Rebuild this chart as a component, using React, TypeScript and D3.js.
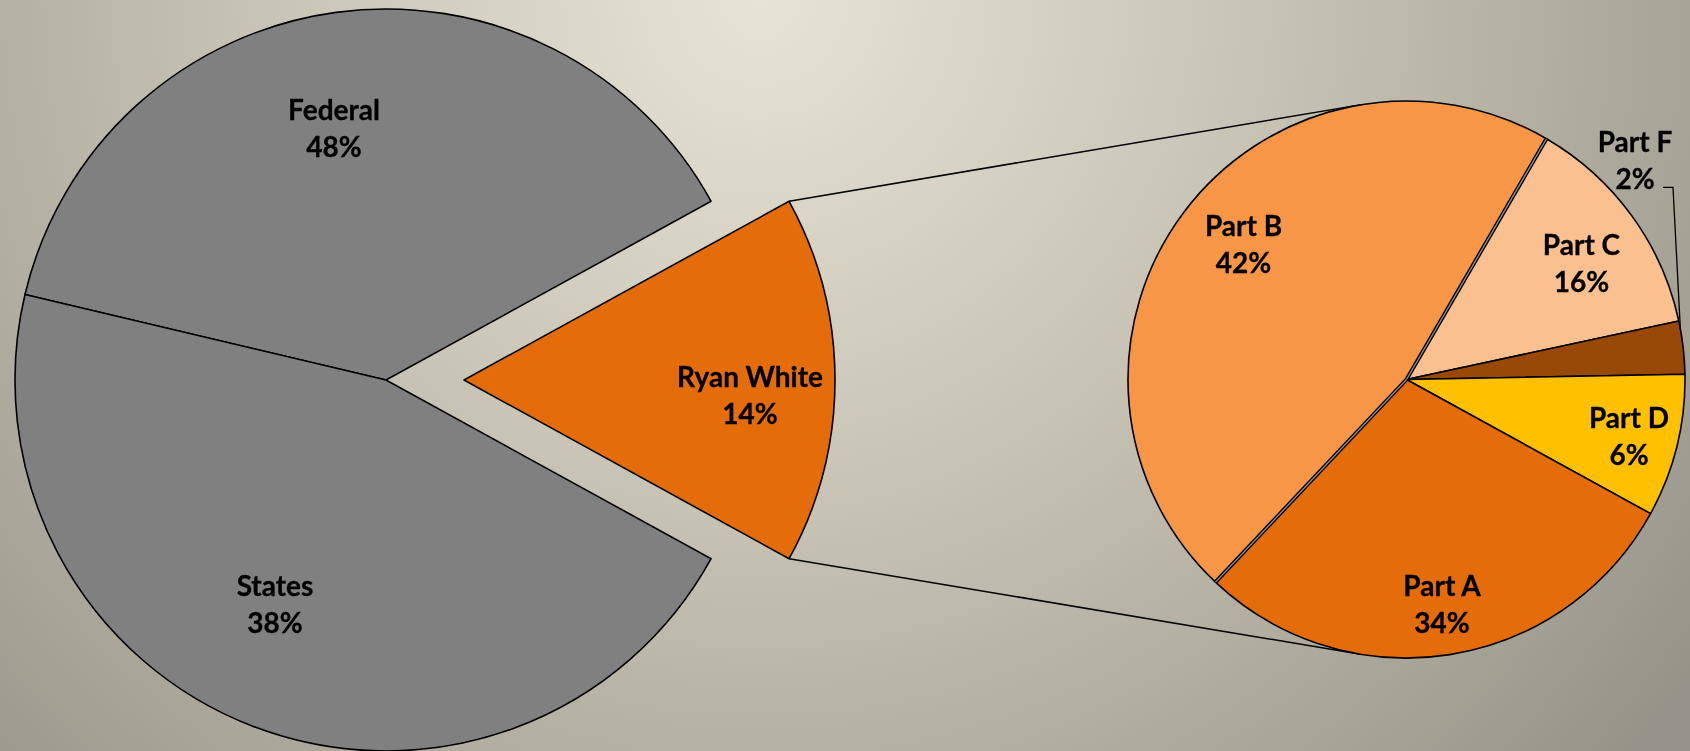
import React, { useEffect } from "react";
import * as d3 from "d3";

// ---- data ----
// first pie: share of the circle each slice occupies, and the label printed on it
const mainCategories = ["Federal", "Ryan White", "States"];
const mainShares = [38.3, 16.0, 45.7];
const mainLabels = ["48%", "14%", "38%"];

// second pie (breakdown of Ryan White)
const ryanCategories = ["Part C", "Part F", "Part D", "Part A", "Part B"];
const ryanShares = [13.25, 3.07, 8.3, 29.03, 46.35];
const ryanLabels = ["16%", "2%", "6%", "34%", "42%"];

// ---- layout / style ----
const W = 1690;
const H = 751;
const LEFT = { cx: 386, cy: 380, r: 371, explode: 78 };
const RIGHT = { cx: 1406.5, cy: 379.5, r: 278.5 };
const FONT = "Lato, 'Open Sans', sans-serif";
const FS = 28;
const LINE = 37;

const mainColors: Record<string, string> = {
  Federal: "#808080",
  States: "#808080",
  "Ryan White": "#E46C0A",
};
const ryanColors: Record<string, string> = {
  "Part A": "#E46C0A",
  "Part B": "#F79646",
  "Part C": "#FAC090",
  "Part D": "#FFC000",
  "Part F": "#984807",
};
// label centre offsets (relative to slice's pie centre)
const mainLabelOffset: Record<string, [number, number]> = {
  Federal: [-52, -253],
  States: [-111, 223],
  "Ryan White": [286, 14.5],
};
const ryanLabelOffset: Record<string, [number, number]> = {
  "Part C": [175, -117.5],
  "Part F": [228.5, -219.7],
  "Part D": [222.5, 55.5],
  "Part A": [35.5, 223.5],
  "Part B": [-163, -136.5],
};

const TAU = Math.PI * 2;
const polar = (cx: number, cy: number, r: number, a: number): [number, number] => [
  cx + r * Math.sin(a),
  cy - r * Math.cos(a),
];

function Label({ x, y, name, pct }: { x: number; y: number; name: string; pct: string }) {
  return (
    <text
      x={x}
      y={y}
      textAnchor="middle"
      fontFamily={FONT}
      fontWeight={700}
      fontSize={FS}
      fill="#000"
      stroke="#000"
      strokeWidth={0.3}
    >
      <tspan x={x} y={y - LINE / 2} dominantBaseline="central">
        {name}
      </tspan>
      <tspan x={x} y={y + LINE / 2} dominantBaseline="central">
        {pct}
      </tspan>
    </text>
  );
}

export default function App() {
  useEffect(() => {
    document.body.style.margin = "0";
  }, []);

  // ---- first pie ----
  const mainTotal = d3.sum(mainShares);
  const rwIdx = mainCategories.indexOf("Ryan White");
  const beforeRw = d3.sum(mainShares.slice(0, rwIdx)) + mainShares[rwIdx] / 2;
  const mainStart = Math.PI / 2 - (TAU * beforeRw) / mainTotal;
  const mainArcs = d3
    .pie<number>()
    .sort(null)
    .startAngle(mainStart)
    .endAngle(mainStart + TAU)(mainShares);
  const mainArc = d3.arc<d3.PieArcDatum<number>>().innerRadius(0).outerRadius(LEFT.r);

  const rw = mainArcs[rwIdx];
  const rwMid = (rw.startAngle + rw.endAngle) / 2;
  const tipX = LEFT.cx + LEFT.explode * Math.sin(rwMid);
  const tipY = LEFT.cy - LEFT.explode * Math.cos(rwMid);
  const rwTop = polar(tipX, tipY, LEFT.r, rw.startAngle);
  const rwBot = polar(tipX, tipY, LEFT.r, rw.endAngle);

  // ---- second pie ----
  const ryanTotal = d3.sum(ryanShares);
  const aIdx = ryanCategories.indexOf("Part A");
  const beforeA = d3.sum(ryanShares.slice(0, aIdx));
  const ryanStart = rw.endAngle - (TAU * beforeA) / ryanTotal;
  const ryanArcs = d3
    .pie<number>()
    .sort(null)
    .startAngle(ryanStart)
    .endAngle(ryanStart + TAU)(ryanShares);
  const ryanArc = d3.arc<d3.PieArcDatum<number>>().innerRadius(0).outerRadius(RIGHT.r);

  // connector tangents
  const tangent = (p: [number, number], sign: number): [number, number] => {
    const dx = p[0] - RIGHT.cx;
    const dy = p[1] - RIGHT.cy;
    const d = Math.hypot(dx, dy);
    const phi = Math.atan2(dy, dx);
    const al = Math.acos(RIGHT.r / d);
    const t = phi + sign * al;
    return [RIGHT.cx + RIGHT.r * Math.cos(t), RIGHT.cy + RIGHT.r * Math.sin(t)];
  };
  const tTop = tangent(rwTop, 1);
  const tBot = tangent(rwBot, -1);

  const bIdx = ryanCategories.indexOf("Part B");
  const bArc = ryanArcs[bIdx];
  const doubleEdges = [bArc.startAngle, bArc.endAngle].map((a) =>
    polar(RIGHT.cx, RIGHT.cy, RIGHT.r, a)
  );

  const fIdx = ryanCategories.indexOf("Part F");
  const fArc = ryanArcs[fIdx];
  const fLead = polar(
    RIGHT.cx,
    RIGHT.cy,
    RIGHT.r,
    fArc.startAngle + 0.15 * (fArc.endAngle - fArc.startAngle)
  );
  const fLab = ryanLabelOffset["Part F"];
  const fx = RIGHT.cx + fLab[0];
  const fy = RIGHT.cy + fLab[1];
  const leadStart: [number, number] = [fx + 28, fy + LINE / 2 + 9];
  const leadBend: [number, number] = [fx + 38, fy + LINE / 2 + 9];

  return (
    <svg
      width={W}
      height={H}
      style={{ position: "fixed", left: 0, top: 0, display: "block" }}
    >
      <defs>
        <radialGradient id="bg" gradientUnits="userSpaceOnUse" cx={760} cy={0} r={1150}>
          <stop offset="0" stopColor="#e7e4d5" />
          <stop offset="0.45" stopColor="#c6c3b4" />
          <stop offset="0.7" stopColor="#b1aea0" />
          <stop offset="1" stopColor="#96938a" />
        </radialGradient>
      </defs>
      <rect x={0} y={0} width={W} height={H} fill="url(#bg)" />

      {/* connector lines */}
      <line x1={rwTop[0]} y1={rwTop[1]} x2={tTop[0]} y2={tTop[1]} stroke="#000" strokeWidth={1.5} />
      <line x1={rwBot[0]} y1={rwBot[1]} x2={tBot[0]} y2={tBot[1]} stroke="#000" strokeWidth={1.5} />

      {/* first pie */}
      {mainArcs.map((a, i) => {
        const name = mainCategories[i];
        const isRw = i === rwIdx;
        const tx = isRw ? tipX : LEFT.cx;
        const ty = isRw ? tipY : LEFT.cy;
        return (
          <path
            key={name}
            d={mainArc(a) || ""}
            transform={`translate(${tx},${ty})`}
            fill={mainColors[name]}
            stroke="#000"
            strokeWidth={1.6}
            strokeLinejoin="round"
          />
        );
      })}

      {/* second pie */}
      {ryanArcs.map((a, i) => {
        const name = ryanCategories[i];
        return (
          <path
            key={name}
            d={ryanArc(a) || ""}
            transform={`translate(${RIGHT.cx},${RIGHT.cy})`}
            fill={ryanColors[name]}
            stroke="#000"
            strokeWidth={1.6}
            strokeLinejoin="round"
          />
        );
      })}
      {doubleEdges.map((p, i) => (
        <g key={i}>
          <line x1={RIGHT.cx} y1={RIGHT.cy} x2={p[0]} y2={p[1]} stroke="#000" strokeWidth={4} />
          <line x1={RIGHT.cx} y1={RIGHT.cy} x2={p[0]} y2={p[1]} stroke="#8f8f8f" strokeWidth={1.3} />
        </g>
      ))}

      {/* Part F leader */}
      <polyline
        points={[leadStart, leadBend, fLead].map((p) => p.join(",")).join(" ")}
        fill="none"
        stroke="#000"
        strokeWidth={1.3}
      />

      {/* labels */}
      {mainArcs.map((a, i) => {
        const name = mainCategories[i];
        const off = mainLabelOffset[name];
        const bx = i === rwIdx ? tipX : LEFT.cx;
        const by = i === rwIdx ? tipY : LEFT.cy;
        return <Label key={name} x={bx + off[0]} y={by + off[1]} name={name} pct={mainLabels[i]} />;
      })}
      {ryanArcs.map((a, i) => {
        const name = ryanCategories[i];
        const off = ryanLabelOffset[name];
        return (
          <Label
            key={name}
            x={RIGHT.cx + off[0]}
            y={RIGHT.cy + off[1]}
            name={name}
            pct={ryanLabels[i]}
          />
        );
      })}
    </svg>
  );
}
